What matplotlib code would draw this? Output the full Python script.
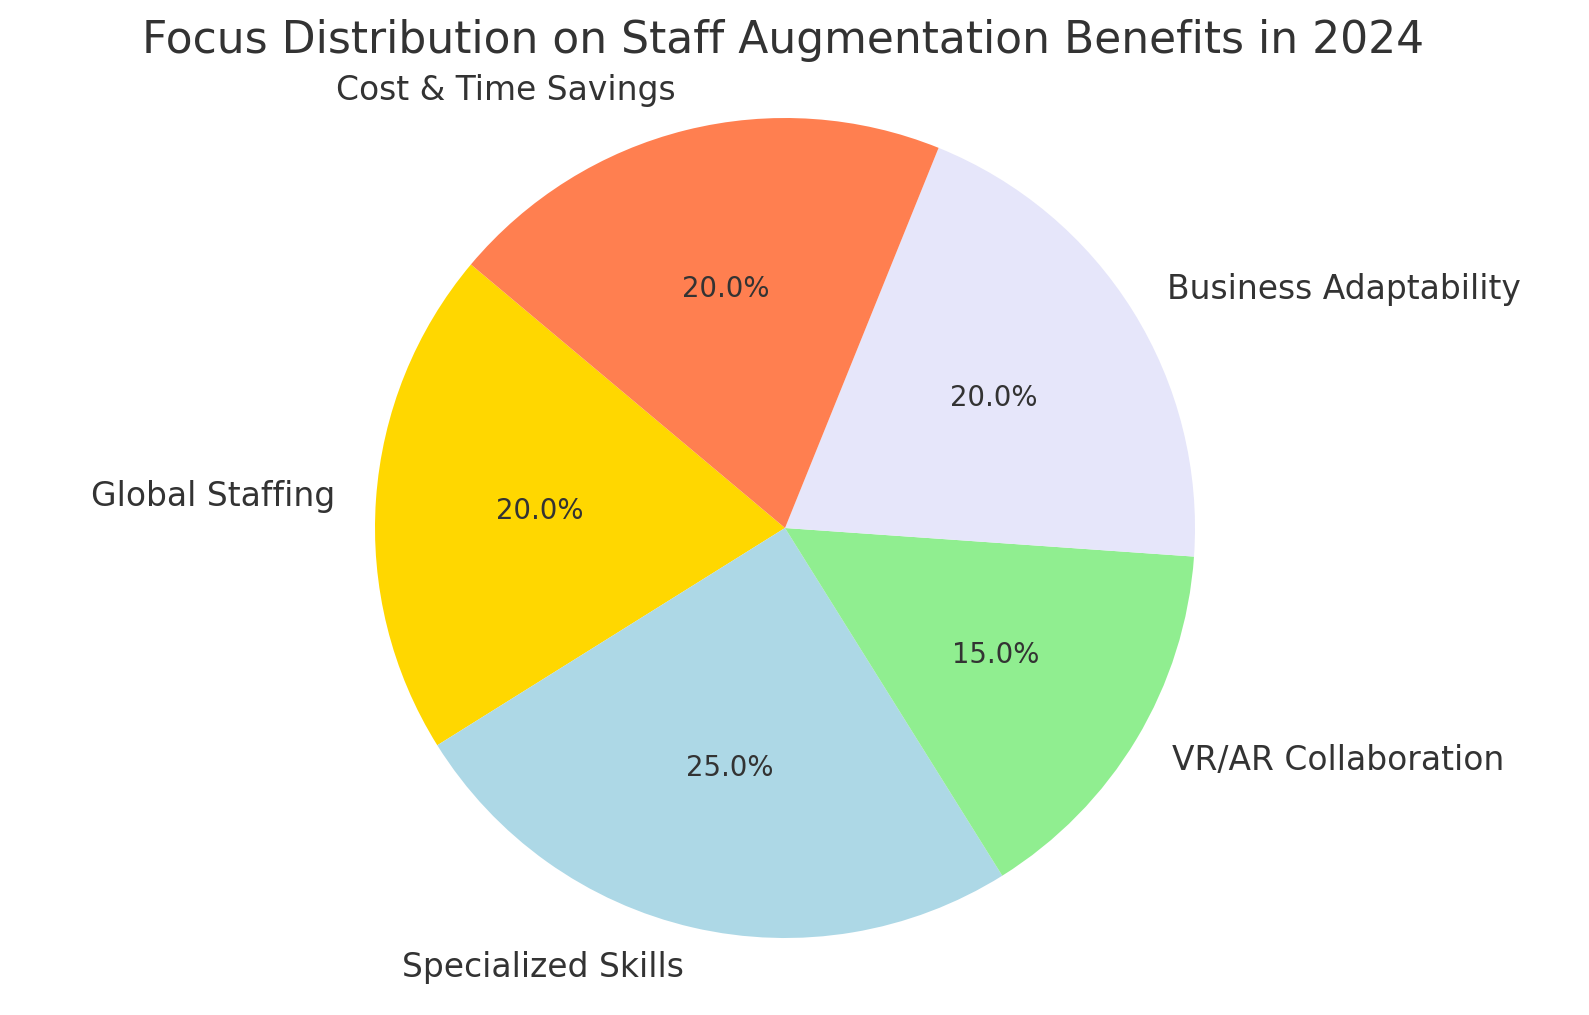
import matplotlib
matplotlib.use("Agg")
import matplotlib.pyplot as plt

labels = ["Global Staffing", "Specialized Skills", "VR/AR Collaboration",
          "Business Adaptability", "Cost & Time Savings"]
values = [20, 25, 15, 20, 20]
colors = ["#FFD700", "#ADD8E6", "#90EE90", "#E6E6FA", "#FF7F50"]
title = "Focus Distribution on Staff Augmentation Benefits in 2024"

text_color = "#333333"
fig = plt.figure(figsize=(15.89, 10.15), dpi=100)
W, H = 1589, 1015
cx, cy, r = 785, 528, 410
ax = fig.add_axes([(cx - r) / W, (H - cy - r) / H, 2 * r / W, 2 * r / H])
wedges, texts, autotexts = ax.pie(values, labels=labels, colors=colors,
                                  autopct="%1.1f%%", startangle=140,
                                  textprops={"color": text_color})
for t in texts:
    t.set_fontsize(23.7)
for t in autotexts:
    t.set_fontsize(19.8)
ax.set_xlim(-1, 1)
ax.set_ylim(-1, 1)
ax.set_aspect("equal")
ax.axis("off")
fig.text(783 / W, 1 - 40 / H, title, ha="center", va="center",
         fontsize=31.7, color=text_color)
fig.savefig("out.png", dpi=100)
